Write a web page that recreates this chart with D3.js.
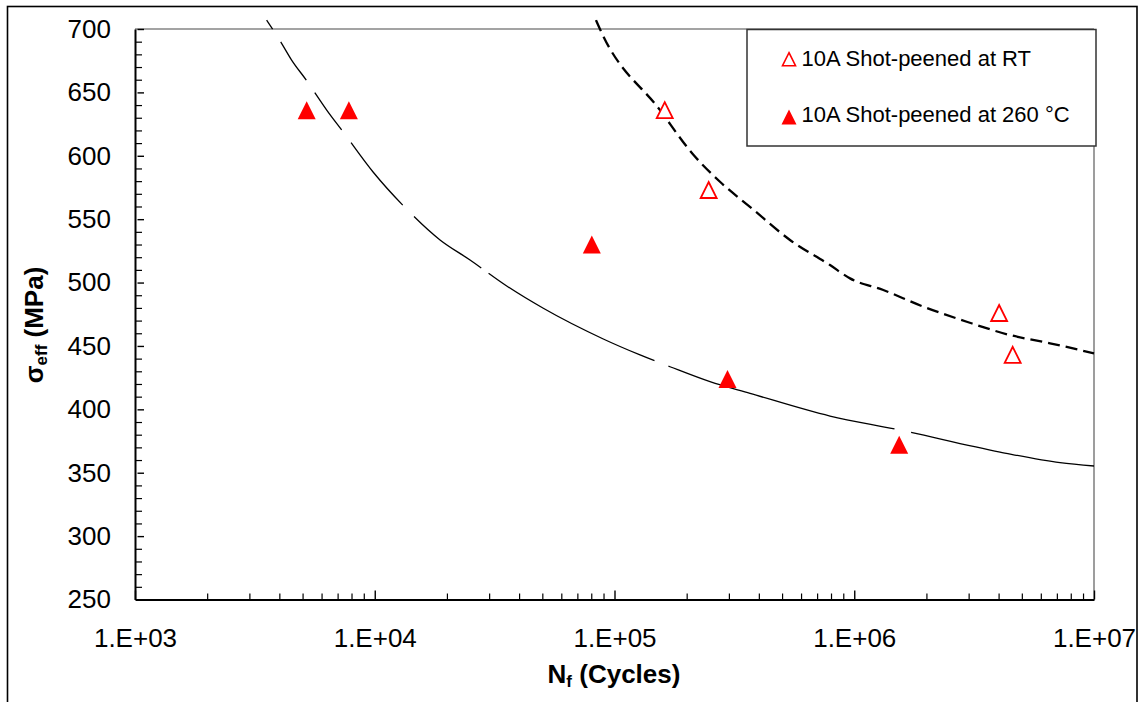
<!DOCTYPE html>
<html>
<head>
<meta charset="utf-8">
<script src="https://cdn.jsdelivr.net/npm/d3@7"></script>
<style>
  html, body { margin: 0; padding: 0; background: #fff; }
  svg { display: block; }
  text { font-family: "Liberation Sans", Arial, Helvetica, sans-serif; fill: #000; }
</style>
</head>
<body>
<svg id="chart" width="1143" height="702"></svg>
<script>
// ---------- data ----------
const xTickValues = [1e3, 1e4, 1e5, 1e6, 1e7];
const xTickLabels = ["1.E+03", "1.E+04", "1.E+05", "1.E+06", "1.E+07"];
const yTickValues = [250, 300, 350, 400, 450, 500, 550, 600, 650, 700];

// 10A shot-peened at RT (open triangles)
const rtN = [162000, 247000, 4020000, 4580000];
const rtS = [636, 573, 476, 443];

// 10A shot-peened at 260 °C (filled triangles)
const htN = [5200, 7800, 80400, 296000, 1540000];
const htS = [636, 636, 530, 424, 372];

// fitted curve through 260 °C data (thin solid line)
const fitHtN = [3540, 4064, 4500, 5203, 5650, 6305, 7320, 9860, 13160, 18720, 24970, 35520, 50470, 89800, 127800, 170400, 250200, 367500, 792400, 1503000, 4055000, 7215000, 10000000];
const fitHtS = [707, 689.5, 675.5, 659.2, 649.3, 636.1, 619.8, 587.0, 560.6, 533.6, 517.8, 497.3, 479.7, 455.5, 442.9, 433.6, 421.8, 412.6, 394.7, 384.2, 366.3, 357.9, 355.3];

// fitted curve through RT data (dashed line)
const fitRtN = [83700, 88400, 154800, 212000, 275400, 373500, 539500, 792400, 960100, 1322000, 1941000, 2945000, 4462000, 6555000, 10000000];
const fitRtS = [707, 697, 636, 601.4, 579.5, 558.6, 533.6, 513.8, 503.3, 494.1, 481, 469.1, 458.6, 452.1, 444.2];

const legendLabels = ["10A Shot-peened at RT", "10A Shot-peened at 260 °C"];

// ---------- layout ----------
const svg = d3.select("#chart");
const L = 135, R = 1094, T = 29, B = 599.5;

const x = d3.scaleLog().domain([1e3, 1e7]).range([L, R]);
const y = d3.scaleLinear().domain([250, 700]).range([B, T]);

// outer frame
svg.append("rect").attr("x", 7.5).attr("y", 6.5).attr("width", 1129.5).attr("height", 720)
  .attr("fill", "none").attr("stroke", "#000").attr("stroke-width", 1.6);

// plot top / right borders (grey)
svg.append("line").attr("x1", L).attr("x2", R).attr("y1", T).attr("y2", T)
  .attr("stroke", "#858585").attr("stroke-width", 1.6);
svg.append("line").attr("x1", R).attr("x2", R).attr("y1", T).attr("y2", B)
  .attr("stroke", "#858585").attr("stroke-width", 1.6);

// ---------- x axis ----------
const xMinor = [];
for (let d = 1e3; d < 1e7; d *= 10) for (let k = 2; k <= 9; k++) xMinor.push(d * k);

svg.append("g").attr("transform", `translate(0,${B})`)
  .call(d3.axisBottom(x).tickValues(xMinor).tickSizeInner(-6).tickSizeOuter(0).tickFormat(""))
  .call(g => g.select(".domain").remove())
  .call(g => g.selectAll(".tick line").attr("stroke", "#000").attr("stroke-width", 1.2));

const xAxis = svg.append("g").attr("transform", `translate(0,${B})`)
  .call(d3.axisBottom(x).tickValues(xTickValues).tickSizeInner(-9).tickSizeOuter(0)
    .tickPadding(29.5).tickFormat((d, i) => xTickLabels[i]));
xAxis.select(".domain").attr("stroke", "#000").attr("stroke-width", 2);
xAxis.selectAll(".tick line").attr("stroke", "#000").attr("stroke-width", 1.4);
xAxis.selectAll(".tick text").attr("font-size", 26).attr("font-family", "Liberation Sans, Arial, sans-serif");

// ---------- y axis ----------
const yMinor = d3.range(250, 701, 10).filter(v => v % 50 !== 0);
svg.append("g").attr("transform", `translate(${L},0)`)
  .call(d3.axisLeft(y).tickValues(yMinor).tickSizeInner(-7).tickSizeOuter(0).tickFormat(""))
  .call(g => g.select(".domain").remove())
  .call(g => g.selectAll(".tick line").attr("stroke", "#000").attr("stroke-width", 1.2));

const yAxis = svg.append("g").attr("transform", `translate(${L},0)`)
  .call(d3.axisLeft(y).tickValues(yTickValues).tickSizeInner(-9).tickSizeOuter(0).tickPadding(24));
yAxis.select(".domain").attr("stroke", "#000").attr("stroke-width", 2);
yAxis.selectAll(".tick line").attr("x1", 2.5).attr("stroke", "#000").attr("stroke-width", 1.4);
yAxis.selectAll(".tick text").attr("font-size", 26).attr("font-family", "Liberation Sans, Arial, sans-serif");

// ---------- axis titles ----------
const xt = svg.append("text").attr("x", (545 + 683) / 2).attr("y", 683)
  .attr("text-anchor", "middle").attr("font-size", 26).attr("font-weight", "bold");
xt.append("tspan").text("N");
xt.append("tspan").attr("font-size", 17).attr("dy", 4).text("f");
xt.append("tspan").attr("dy", -4).text(" (Cycles)");

const yt = svg.append("text").attr("transform", "translate(43,325) rotate(-90)")
  .attr("text-anchor", "middle").attr("font-size", 26).attr("font-weight", "bold");
yt.append("tspan").text("σ");
yt.append("tspan").attr("font-size", 17).attr("dy", 4).text("eff");
yt.append("tspan").attr("dy", -4).text(" (MPa)");

// ---------- fitted curves ----------
const line = d3.line().x(d => x(d[0])).y(d => y(d[1])).curve(d3.curveMonotoneX);

svg.append("path").datum(fitHtN.map((n, i) => [n, fitHtS[i]]))
  .attr("d", line).attr("fill", "none").attr("stroke", "#000").attr("stroke-width", 1.3)
  .attr("stroke-dasharray", "11,15,46,15,46,16,81,16,85,9,188,15,235,17,600");

svg.append("path").datum(fitRtN.map((n, i) => [n, fitRtS[i]]))
  .attr("d", line).attr("fill", "none").attr("stroke", "#000").attr("stroke-width", 2.3)
  .attr("stroke-dasharray", "12,6");

// ---------- markers ----------
function tri(s) {
  const h = s / 2;
  return `M0,${-h}L${h},${h}L${-h},${h}Z`;
}

svg.append("g").selectAll("path").data(htN.map((n, i) => [n, htS[i]])).join("path")
  .attr("transform", d => `translate(${x(d[0])},${y(d[1])})`)
  .attr("d", tri(18)).attr("fill", "#ff0000").attr("stroke", "none");

svg.append("g").selectAll("path").data(rtN.map((n, i) => [n, rtS[i]])).join("path")
  .attr("transform", d => `translate(${x(d[0])},${y(d[1])})`)
  .attr("d", tri(16)).attr("fill", "#fff").attr("stroke", "#ff0000").attr("stroke-width", 1.8);

// ---------- legend ----------
const lg = svg.append("g");
lg.append("rect").attr("x", 747).attr("y", 29.5).attr("width", 349).attr("height", 116.5)
  .attr("fill", "#fff").attr("stroke", "#333").attr("stroke-width", 1.5);

const legendRows = [
  { label: legendLabels[0], my: 59.2, ty: 65.5, open: true },
  { label: legendLabels[1], my: 117, ty: 122, open: false }
];
legendRows.forEach(r => {
  const m = lg.append("path").attr("transform", `translate(789,${r.my})`);
  if (r.open) m.attr("d", tri(13)).attr("fill", "#fff").attr("stroke", "#ff0000").attr("stroke-width", 1.6);
  else m.attr("d", tri(15)).attr("fill", "#ff0000");
  lg.append("text").attr("x", 801.5).attr("y", r.ty).attr("font-size", 22).text(r.label);
});
</script>
</body>
</html>
